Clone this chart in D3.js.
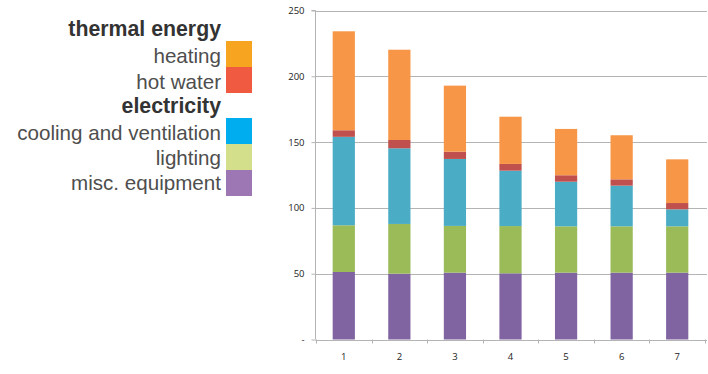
<!DOCTYPE html>
<html>
<head>
<meta charset="utf-8">
<script src="https://cdn.jsdelivr.net/npm/d3@7"></script>
<style>
  html, body { margin: 0; padding: 0; background: #fff; }
  svg { display: block; }
</style>
</head>
<body>
<svg id="chart" width="708" height="374"></svg>
<script>
// Energy use per case, stacked by end use
const categories = ["1", "2", "3", "4", "5", "6", "7"];
const miscEquipment = [51.3, 50, 50.8, 50.3, 50.8, 50.8, 50.8];
const lighting      = [35.5, 37.8, 35.5, 35.9, 35.2, 35.2, 35.2];
const cooling       = [67.2, 57.5, 50.9, 42.1, 33.9, 30.9, 12.9];
const hotWater      = [5.0, 6.3, 5.5, 5.1, 4.9, 4.8, 4.8];
const heating       = [75.2, 68.6, 50.2, 35.9, 35.2, 33.5, 33.2];
const yTicks = [0, 50, 100, 150, 200, 250];
const yTickLabels = ["-", "50", "100", "150", "200", "250"];

const seriesKeys = ["misc", "lighting", "cooling", "hotWater", "heating"];
const barColors = {
  misc: "#8064a2", lighting: "#9bbb59", cooling: "#4bacc6",
  hotWater: "#c0504d", heating: "#f79646"
};

// legend entries (top to bottom)
const legendRows = [
  { label: "thermal energy", header: true },
  { label: "heating", color: "#f7a521" },
  { label: "hot water", color: "#ef5a41" },
  { label: "electricity", header: true },
  { label: "cooling and ventilation", color: "#00aeef" },
  { label: "lighting", color: "#d3df8a" },
  { label: "misc. equipment", color: "#9c77b3" }
];

const table = categories.map((c, i) => ({
  cat: c, misc: miscEquipment[i], lighting: lighting[i], cooling: cooling[i],
  hotWater: hotWater[i], heating: heating[i]
}));

const svg = d3.select("#chart");

const x = d3.scaleBand().domain(categories).range([316, 705])
  .paddingInner(0.6).paddingOuter(0.3);
const y = d3.scaleLinear().domain([0, 250]).range([339.5, 10.5]);

// gridlines
svg.append("g").selectAll("line").data(yTicks.filter(d => d > 0)).join("line")
  .attr("x1", 315.5).attr("x2", 707)
  .attr("y1", d => Math.round(y(d)) + 0.5).attr("y2", d => Math.round(y(d)) + 0.5)
  .attr("stroke", "#b4b4b4").attr("stroke-width", 1);

// stacked bars
const stacked = d3.stack().keys(seriesKeys)(table);
svg.append("g").selectAll("g").data(stacked).join("g")
  .attr("fill", s => barColors[s.key])
  .selectAll("rect").data(s => s).join("rect")
  .attr("x", d => x(d.data.cat))
  .attr("width", x.bandwidth())
  .attr("y", d => y(d[1]))
  .attr("height", d => y(d[0]) - y(d[1]));

// y axis
const yAxis = d3.axisLeft(y).tickValues(yTicks)
  .tickFormat((d, i) => yTickLabels[i]).tickSize(4).tickPadding(7);
const gy = svg.append("g").attr("transform", "translate(315.5,0)").call(yAxis);
gy.select(".domain").attr("stroke", "#b4b4b4").attr("d", `M-4,${y(250)}H0V${y(0)}`);
gy.selectAll(".tick line").attr("stroke", "#b4b4b4");
gy.selectAll("text").attr("font-family", "'Open Sans', 'Liberation Sans', sans-serif")
  .attr("font-size", 9.5).attr("fill", "#222");

// x axis: baseline with tick marks at band boundaries
const gx = svg.append("g");
gx.append("line").attr("x1", 315.5).attr("x2", 707)
  .attr("y1", Math.round(y(0)) + 0.5).attr("y2", Math.round(y(0)) + 0.5)
  .attr("stroke", "#b4b4b4");
const bounds = categories.map(c => x(c) - x.step() * x.paddingInner() / 2)
  .concat([x(categories[categories.length - 1]) + x.bandwidth() + x.step() * x.paddingInner() / 2]);
gx.selectAll("line.tk").data(bounds).join("line").attr("class", "tk")
  .attr("x1", d => Math.round(d) + 0.5).attr("x2", d => Math.round(d) + 0.5)
  .attr("y1", y(0)).attr("y2", y(0) + 4).attr("stroke", "#b4b4b4");
gx.selectAll("text").data(categories).join("text")
  .attr("x", d => x(d) + x.bandwidth() / 2).attr("y", 360)
  .attr("text-anchor", "middle")
  .attr("font-family", "'Open Sans', 'Liberation Sans', sans-serif")
  .attr("font-size", 9.5).attr("fill", "#222").text(d => d);

// legend
const legendBaselines = [36, 62.5, 88.5, 113, 139.5, 165, 189.5];
const swatchTops = { 1: 41, 2: 67, 4: 118, 5: 144, 6: 170 };
const lg = svg.append("g");
legendRows.forEach((r, i) => {
  lg.append("text")
    .attr("x", 221).attr("y", legendBaselines[i])
    .attr("text-anchor", "end")
    .attr("font-family", "'Liberation Sans', Arial, sans-serif")
    .attr("font-size", r.header ? 21.3 : 20.6)
    .attr("font-weight", r.header ? "bold" : "normal")
    .attr("fill", r.header ? "#333" : "#4e4e4e")
    .text(r.label);
  if (!r.header) {
    lg.append("rect").attr("x", 226).attr("y", swatchTops[i])
      .attr("width", 26).attr("height", 26).attr("fill", r.color);
  }
});
</script>
</body>
</html>
